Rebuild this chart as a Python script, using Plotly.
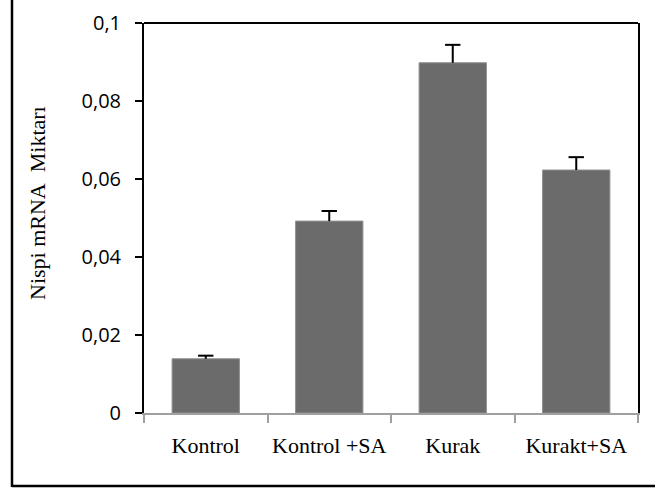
import plotly.graph_objects as go

categories = ["Kontrol", "Kontrol +SA", "Kurak", "Kurakt+SA"]
values = [0.0139, 0.0492, 0.0898, 0.0623]
errors = [0.0008, 0.0026, 0.0046, 0.0033]
ytick_vals = [0, 0.02, 0.04, 0.06, 0.08, 0.1]
ytick_text = ["0", "0,02", "0,04", "0,06", "0,08", "0,1"]
y_title = "Nispi mRNA\u00a0 Miktarı"

W, H = 655, 490
L, R, T, B = 144, 17, 23, 77
pw, ph = W - L - R, H - T - B

def px_x(px):
    return (px - L) / pw

def px_y(py):
    return (H - B - py) / ph

tops = [v + e for v, e in zip(values, errors)]

fig = go.Figure()
fig.add_trace(go.Bar(
    x=categories, y=values,
    marker=dict(color="#6b6b6b", line=dict(color="#8e8e8e", width=1)),
    hoverinfo="skip",
))
# positive-only error bars: stem drawn downward from the cap, cap as a marker
fig.add_trace(go.Scatter(
    x=categories, y=tops, mode="markers",
    marker=dict(symbol="line-ew", size=11, color="black", line=dict(color="black", width=2)),
    error_y=dict(type="data", array=[0] * len(errors), arrayminus=errors, symmetric=False,
                 color="black", thickness=2, width=0),
    cliponaxis=False,
))

fig.update_layout(
    width=W, height=H,
    margin=dict(l=L, r=R, t=T, b=B, autoexpand=False),
    paper_bgcolor="white", plot_bgcolor="white",
    bargap=0.455,
    showlegend=False,
    xaxis=dict(
        type="category", tickson="boundaries", ticks="outside", ticklen=8,
        tickcolor="#a0a0a0", tickwidth=1.5, tickangle=0, automargin=False,
        showline=True, linecolor="#a0a0a0", linewidth=2,
        showgrid=False, zeroline=False,
        tickfont=dict(family="Liberation Serif", size=22, color="black"),
        ticklabelstandoff=12,
    ),
    yaxis=dict(
        range=[0, 0.1], tickvals=ytick_vals, ticktext=ytick_text, automargin=False,
        ticks="outside", ticklen=7, tickcolor="black", tickwidth=1.5,
        showline=True, linecolor="black", linewidth=2, mirror=True,
        showgrid=False, zeroline=False,
        tickfont=dict(family="Open Sans", size=20, color="black"),
        ticklabelstandoff=10,
    ),
    shapes=[
        dict(type="line", xref="paper", yref="paper", x0=0, x1=1, y0=1, y1=1,
             line=dict(color="black", width=2)),
        dict(type="line", xref="paper", yref="paper", x0=px_x(12), x1=px_x(12),
             y0=px_y(487), y1=px_y(-5), line=dict(color="black", width=2.5)),
        dict(type="line", xref="paper", yref="paper", x0=px_x(12), x1=px_x(660),
             y0=px_y(486), y1=px_y(486), line=dict(color="black", width=2.5)),
    ],
    annotations=[
        dict(text=y_title, xref="paper", yref="paper", x=px_x(37), y=px_y(203),
             textangle=-90, showarrow=False, xanchor="center", yanchor="middle",
             font=dict(family="Liberation Serif", size=22, color="black")),
    ],
)

fig.write_html("out.html", config={"displayModeBar": False},
               post_script="document.body.style.margin='0';document.body.style.overflow='hidden';")
